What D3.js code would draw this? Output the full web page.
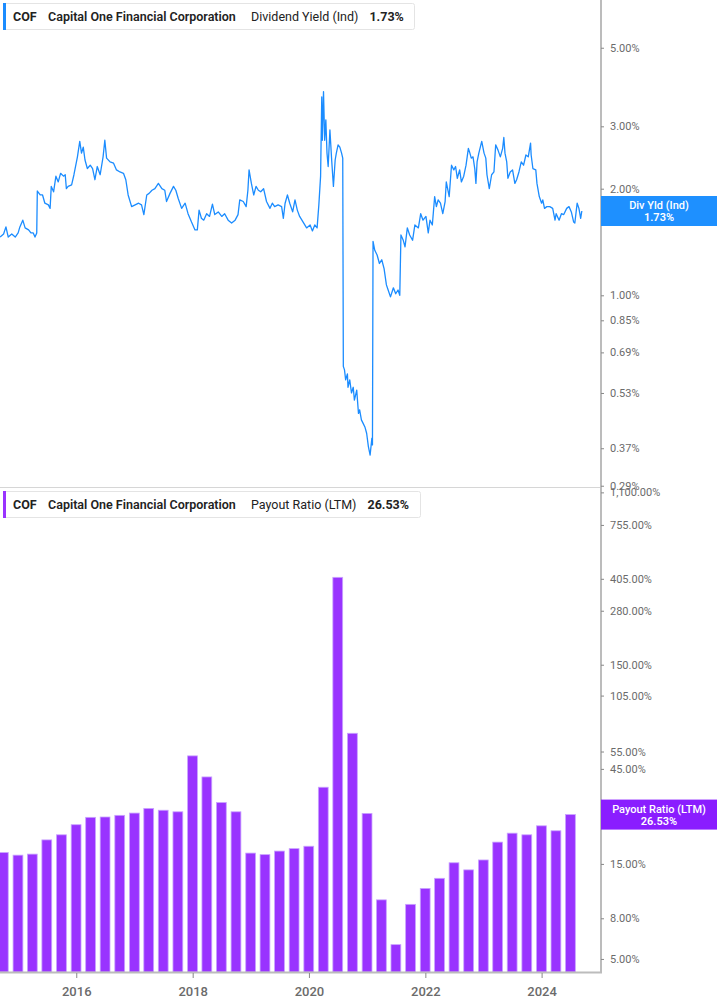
<!DOCTYPE html>
<html><head><meta charset="utf-8">
<script src="https://cdn.jsdelivr.net/npm/d3@7"></script>
<style>
body{margin:0;background:#fff;}
svg{display:block;font-family:Roboto,"Noto Sans",sans-serif;}
</style></head>
<body><svg id="chart" width="717" height="1005"></svg>
<script>
const ticker = "COF";
const company = "Capital One Financial Corporation";
const yieldLabel = "Dividend Yield (Ind)";
const yieldShort = "Div Yld (Ind)";
const yieldLatest = 1.73;
const payoutLabel = "Payout Ratio (LTM)";
const payoutLatest = 26.53;

// Dividend yield (%) — dates as decimal years
const yieldDates = [2014.69,2014.75,2014.79,2014.83,2014.89,2014.95,2015.00,2015.03,2015.08,2015.12,2015.18,2015.22,2015.26,2015.29,2015.32,2015.33,2015.38,2015.42,2015.46,2015.52,2015.55,2015.57,2015.61,2015.65,2015.69,2015.73,2015.78,2015.81,2015.83,2015.86,2015.92,2015.96,2016.02,2016.06,2016.09,2016.12,2016.15,2016.19,2016.24,2016.28,2016.32,2016.36,2016.41,2016.46,2016.49,2016.52,2016.58,2016.64,2016.69,2016.75,2016.81,2016.85,2016.89,2016.95,2017.01,2017.07,2017.12,2017.16,2017.21,2017.25,2017.30,2017.35,2017.41,2017.47,2017.52,2017.55,2017.61,2017.67,2017.71,2017.75,2017.81,2017.87,2017.92,2017.98,2018.04,2018.08,2018.11,2018.15,2018.19,2018.24,2018.29,2018.34,2018.38,2018.44,2018.50,2018.55,2018.61,2018.67,2018.73,2018.78,2018.81,2018.87,2018.92,2018.95,2018.97,2019.01,2019.05,2019.09,2019.13,2019.17,2019.22,2019.27,2019.33,2019.37,2019.41,2019.47,2019.53,2019.56,2019.59,2019.63,2019.67,2019.72,2019.76,2019.80,2019.84,2019.90,2019.96,2020.02,2020.06,2020.10,2020.14,2020.17,2020.20,2020.22,2020.23,2020.25,2020.27,2020.29,2020.31,2020.33,2020.36,2020.39,2020.42,2020.45,2020.47,2020.50,2020.53,2020.56,2020.58,2020.59,2020.61,2020.63,2020.66,2020.67,2020.70,2020.73,2020.76,2020.78,2020.82,2020.85,2020.87,2020.90,2020.93,2020.96,2020.99,2021.02,2021.05,2021.08,2021.09,2021.10,2021.13,2021.17,2021.21,2021.25,2021.29,2021.33,2021.36,2021.40,2021.45,2021.49,2021.53,2021.56,2021.58,2021.62,2021.65,2021.69,2021.73,2021.78,2021.82,2021.88,2021.92,2021.96,2022.01,2022.05,2022.08,2022.12,2022.16,2022.19,2022.22,2022.26,2022.30,2022.34,2022.36,2022.41,2022.45,2022.49,2022.52,2022.55,2022.59,2022.62,2022.66,2022.70,2022.74,2022.76,2022.79,2022.82,2022.85,2022.87,2022.89,2022.92,2022.97,2023.01,2023.04,2023.06,2023.10,2023.14,2023.18,2023.21,2023.25,2023.29,2023.33,2023.35,2023.37,2023.40,2023.42,2023.46,2023.50,2023.54,2023.57,2023.61,2023.65,2023.69,2023.73,2023.77,2023.81,2023.82,2023.85,2023.90,2023.92,2023.96,2024.00,2024.02,2024.05,2024.09,2024.14,2024.19,2024.23,2024.25,2024.30,2024.34,2024.38,2024.43,2024.47,2024.51,2024.55,2024.57,2024.61,2024.64,2024.67,2024.69];
const yieldValues = [1.46,1.49,1.56,1.46,1.49,1.46,1.50,1.56,1.63,1.55,1.53,1.50,1.50,1.46,1.50,1.97,1.92,1.92,1.82,1.80,1.76,2.03,1.96,2.17,2.09,2.21,2.17,2.19,2.00,2.03,2.05,2.19,2.46,2.72,2.52,2.62,2.41,2.28,2.33,2.28,2.12,2.31,2.19,2.46,2.74,2.44,2.38,2.36,2.26,2.23,2.21,2.12,1.92,1.78,1.80,1.82,1.80,1.69,1.92,1.94,1.98,2.00,2.07,2.00,1.98,1.84,1.94,2.03,1.98,1.88,1.76,1.82,1.70,1.61,1.53,1.53,1.74,1.65,1.63,1.70,1.67,1.81,1.69,1.72,1.67,1.70,1.63,1.60,1.63,1.69,1.86,1.84,1.78,1.98,2.26,2.07,1.92,2.03,1.98,1.96,2.00,1.84,1.76,1.82,1.78,1.80,1.78,1.65,1.82,1.92,1.82,1.72,1.86,1.74,1.67,1.61,1.55,1.58,1.52,1.58,1.55,1.80,2.17,3.63,2.74,3.76,2.74,3.13,2.52,2.31,2.93,2.41,2.03,2.41,2.52,2.66,2.62,2.52,2.44,0.63,0.616,0.577,0.60,0.55,0.577,0.53,0.55,0.506,0.54,0.464,0.475,0.445,0.435,0.425,0.408,0.374,0.354,0.395,0.378,1.42,1.34,1.30,1.23,1.26,1.19,1.07,1.035,0.99,1.05,1.01,1.035,1.00,1.48,1.43,1.37,1.55,1.48,1.43,1.58,1.55,1.70,1.63,1.67,1.50,1.63,1.58,1.90,1.78,1.86,1.82,1.70,1.84,2.09,1.90,2.33,2.26,2.31,2.14,2.26,2.09,2.17,2.33,2.60,2.54,2.44,2.46,2.28,2.07,2.38,2.52,2.72,2.52,2.44,2.19,2.00,2.19,2.23,2.66,2.57,2.46,2.60,2.79,2.52,2.38,2.14,2.23,2.26,2.07,2.12,2.23,2.38,2.33,2.49,2.46,2.69,2.49,2.28,2.26,2.07,1.90,1.82,1.86,1.76,1.78,1.78,1.76,1.63,1.70,1.63,1.70,1.69,1.76,1.78,1.72,1.61,1.60,1.82,1.76,1.65,1.73];

// Payout ratio (LTM, %) by quarter end
const quarterEnds = ["2014-09-30","2014-12-31","2015-03-31","2015-06-30","2015-09-30","2015-12-31","2016-03-31","2016-06-30","2016-09-30","2016-12-31","2017-03-31","2017-06-30","2017-09-30","2017-12-31","2018-03-31","2018-06-30","2018-09-30","2018-12-31","2019-03-31","2019-06-30","2019-09-30","2019-12-31","2020-03-31","2020-06-30","2020-09-30","2020-12-31","2021-03-31","2021-06-30","2021-09-30","2021-12-31","2022-03-31","2022-06-30","2022-09-30","2022-12-31","2023-03-31","2023-06-30","2023-09-30","2023-12-31","2024-03-31","2024-06-30"];
const payoutValues = [17.1,16.6,16.8,19.8,21.0,23.6,25.7,25.8,26.3,27.0,28.5,27.9,27.4,52.3,41.0,30.5,27.4,17.0,16.7,17.4,17.9,18.4,36.4,412,67.9,26.9,9.9,5.9,9.4,11.3,12.7,15.2,14.0,15.7,19.3,21.4,21.0,23.3,22.0,26.53];

const yieldTicks = [5, 3, 2, 1, 0.85, 0.69, 0.53, 0.37, 0.29];
const payoutTicks = [1100, 755, 405, 280, 150, 105, 55, 45, 25, 15, 8, 5];
const yearTicks = [2016, 2018, 2020, 2022, 2024];

const BLUE = "#1b8cff", BLUE_BOX = "#1e90ff";
const PURPLE = "#9933ff", PURPLE_BOX = "#8a1dff";
const AXIS = "#bcbcbc", TXT = "#6b6b6b";

function dy(v){const y=Math.floor(v);const s=new Date(y,0,1),e=new Date(y+1,0,1);return new Date(+s+(v-y)*(e-s));}

const svg = d3.select("#chart");
const plotR = 601;
const x = d3.scaleTime().domain([dy(2014.688), dy(2025.019)]).range([0, plotR]);
const yTop = d3.scaleLog().domain([0.2876, 6.82]).range([487, 0]);
const yBot = d3.scaleLog().domain([4.30, 1157]).range([972, 488]);

svg.append("defs").append("clipPath").attr("id","clipTop").append("rect").attr("x",0).attr("y",0).attr("width",plotR).attr("height",487);
svg.select("defs").append("clipPath").attr("id","clipBot").append("rect").attr("x",0).attr("y",488).attr("width",plotR).attr("height",484);

// separator between panels
svg.append("line").attr("x1",0).attr("x2",plotR).attr("y1",487.5).attr("y2",487.5).attr("stroke","#d6d6d6").attr("stroke-width",1);

// top line
const lineData = yieldDates.map((d,i)=>({d:dy(d), v:yieldValues[i]}));
svg.append("path").datum(lineData).attr("clip-path","url(#clipTop)")
  .attr("fill","none").attr("stroke",BLUE).attr("stroke-width",1.3).attr("stroke-linejoin","round")
  .attr("d", d3.line().x(p=>x(p.d)).y(p=>yTop(p.v)));

// bars
const qDates = quarterEnds.map(s=>new Date(s+"T00:00:00"));
const qStep = x(qDates[1]) - x(qDates[0]);
const bw = qStep*0.67;
svg.append("g").attr("clip-path","url(#clipBot)").selectAll("rect").data(payoutValues).join("rect")
  .attr("x",(v,i)=>x(qDates[i]) - bw/2)
  .attr("y",v=>yBot(v))
  .attr("width",bw)
  .attr("height",v=>972 - yBot(v))
  .attr("fill",PURPLE).attr("stroke","#c9a3ff").attr("stroke-width",0.8);

// right axis
const axisG = svg.append("g");
axisG.append("line").attr("x1",plotR).attr("x2",plotR).attr("y1",0).attr("y2",973).attr("stroke",AXIS).attr("stroke-width",2);
function rightTicks(scale, ticks, fmt){
  const g = svg.append("g").attr("transform",`translate(${plotR},0)`)
    .call(d3.axisRight(scale).tickValues(ticks).tickFormat(fmt).tickSize(3).tickPadding(6));
  g.select(".domain").remove();
  g.selectAll(".tick line").attr("stroke","#888");
  g.selectAll(".tick text").attr("fill",TXT).style("font-size","11px").style("font-family","Roboto, sans-serif");
}
rightTicks(yTop, yieldTicks, v=>d3.format(".2f")(v)+"%");
rightTicks(yBot, payoutTicks, v=>d3.format(",.2f")(v)+"%");

// bottom axis
svg.append("line").attr("x1",0).attr("x2",plotR+1).attr("y1",972.5).attr("y2",972.5).attr("stroke",AXIS).attr("stroke-width",2);
const xg = svg.append("g").attr("transform","translate(0,973)")
  .call(d3.axisBottom(x).tickValues(yearTicks.map(y=>new Date(y,0,1))).tickFormat(d3.timeFormat("%Y")).tickSize(5).tickPadding(9));
xg.select(".domain").remove();
xg.selectAll(".tick line").attr("stroke","#888");
xg.selectAll(".tick text").attr("fill",TXT).style("font-size","13px").style("font-weight","500").style("font-family","Roboto, sans-serif");

// value boxes on right
function valueBox(yc, color, l1, l2){
  const g = svg.append("g");
  g.append("rect").attr("x",plotR).attr("y",yc-15).attr("width",717-plotR).attr("height",30).attr("fill",color);
  g.append("text").attr("x",659).attr("y",yc-2).attr("text-anchor","middle").attr("fill","#fff")
    .style("font-size","11px").style("font-weight","500").text(l1);
  g.append("text").attr("x",659).attr("y",yc+10).attr("text-anchor","middle").attr("fill","#fff")
    .style("font-size","11px").style("font-weight","600").text(l2);
}
valueBox(yTop(yieldLatest), BLUE_BOX, yieldShort, d3.format(".2f")(yieldLatest)+"%");
valueBox(yBot(payoutLatest), PURPLE_BOX, payoutLabel, d3.format(".2f")(payoutLatest)+"%");

// legends
function legend(y0, color, label, val, w){
  const g = svg.append("g");
  g.append("rect").attr("x",3.5).attr("y",y0+0.5).attr("width",w).attr("height",26).attr("rx",2).attr("fill","#fff").attr("stroke","#e4e4e4");
  g.append("rect").attr("x",3).attr("y",y0).attr("width",3).attr("height",27).attr("fill",color);
  const t = g.append("text").attr("y",y0+17.5).attr("fill","#222").style("font-size","12.5px");
  t.append("tspan").attr("x",13).style("font-weight","700").text(ticker);
  t.append("tspan").attr("x",48).style("font-weight","600").text(company);
  t.append("tspan").attr("x",251).style("font-weight","400").text(label);
  t.append("tspan").attr("dx",11).style("font-weight","700").text(val);
}
legend(3, BLUE, yieldLabel, d3.format(".2f")(yieldLatest)+"%", 411);
legend(491, PURPLE, payoutLabel, d3.format(".2f")(payoutLatest)+"%", 417);
</script>
</body></html>
